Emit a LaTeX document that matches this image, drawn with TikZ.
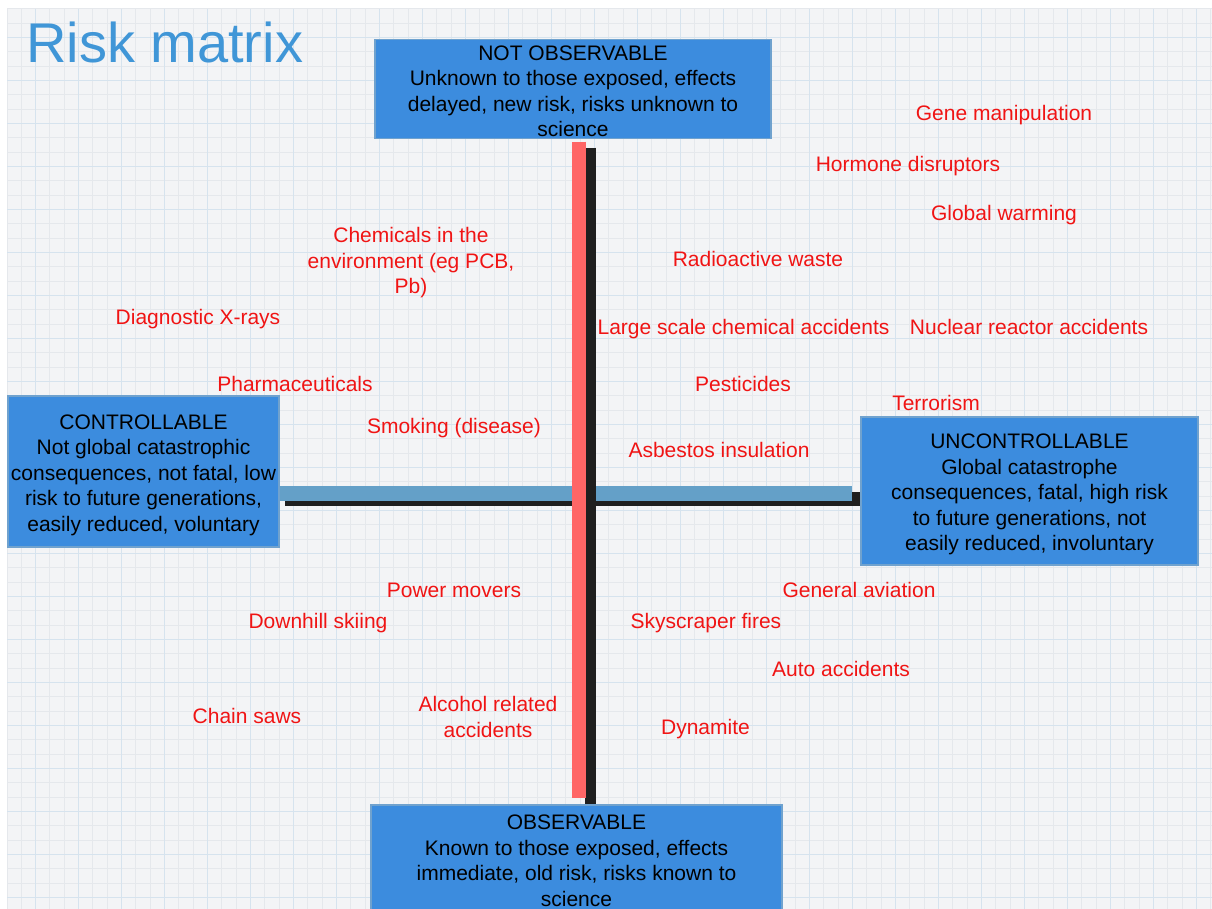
\documentclass[tikz,border=0pt]{standalone}
\usepackage{fontspec}
\setmainfont{Liberation Sans}
\definecolor{boxblue}{RGB}{60,140,222}
\definecolor{boxedge}{RGB}{112,162,206}
\definecolor{barblue}{RGB}{100,160,200}
\definecolor{barred}{RGB}{255,102,102}
\definecolor{titleblue}{RGB}{64,150,215}
\definecolor{riskred}{RGB}{240,20,20}
\definecolor{paper}{RGB}{243,244,246}
\definecolor{gridminor}{RGB}{229,232,236}
\definecolor{gridmajor}{RGB}{214,227,238}
\newcommand{\riskFont}[0]{\fontsize{21}{25.5}\selectfont}
\newcommand{\gridStep}[0]{14.33}
\newcommand{\boxLift}[1]{\rule{0pt}{#1}}

\begin{document}
\begin{tikzpicture}[x=1pt,y=-1pt]
  \tikzset{axis box/.style={draw=boxedge,line width=1.5pt,fill=boxblue,align=center,font=\riskFont,inner sep=0pt},
    risk/.style={text=riskred,align=center,font=\riskFont,inner sep=0pt},
    bar/.style={line cap=butt}}
  \useasboundingbox (0,0) rectangle (1212,909);
  \begin{scope}
    \clip (0,0) rectangle (1212,909);
    \fill[white] (0,0) rectangle (1212,909);
    \fill[paper] (7,9) rectangle (1212,909);
    \foreach \i in {0,...,84}
      \draw[gridminor,line width=1pt] (7+\gridStep*\i,9) -- (7+\gridStep*\i,909);
    \foreach \i in {0,...,63}
      \draw[gridminor,line width=1pt] (7,9+\gridStep*\i) -- (1212,9+\gridStep*\i);
    \foreach \i in {2,5,...,84}
      \draw[gridmajor,line width=1pt] (7+\gridStep*\i,9) -- (7+\gridStep*\i,909);
    \foreach \i in {2,5,...,63}
      \draw[gridmajor,line width=1pt] (7,9+\gridStep*\i) -- (1212,9+\gridStep*\i);

    \node[text=titleblue,font=\fontsize{56}{60}\selectfont,anchor=base west,inner sep=0pt] (title) at (26,63) {Risk matrix};

    \node[axis box,minimum width=396,minimum height=99] (notobs) at (573,89) {\boxLift{19.5pt}NOT OBSERVABLE\\Unknown to those exposed, effects\\delayed, new risk, risks unknown to\\science};
    \node[axis box,minimum width=411,minimum height=107] (obs) at (576.5,858.5) {\boxLift{19.5pt}OBSERVABLE\\Known to those exposed, effects\\immediate, old risk, risks known to\\science};
    \node[axis box,minimum width=271,minimum height=151] (ctrl) at (143.5,471.5) {\boxLift{21.5pt}CONTROLLABLE\\Not global catastrophic\\consequences, not fatal, low\\risk to future generations,\\easily reduced, voluntary};
    \node[axis box,minimum width=337,minimum height=148] (unctrl) at (1029.5,491) {\boxLift{21.5pt}UNCONTROLLABLE\\Global catastrophe\\consequences, fatal, high risk\\to future generations, not\\easily reduced, involuntary};

    \coordinate (hb) at (0,493.5);
    \coordinate (hs) at (0,499);
    \coordinate (vb) at (579,0);
    \coordinate (vs) at (590.5,0);
    \draw[bar,black!88,line width=14pt] ([xshift=5pt]ctrl.east |- hs) -- (unctrl.west |- hs);
    \draw[bar,barblue,line width=15pt] (ctrl.east |- hb) -- ([xshift=-8pt]unctrl.west |- hb);
    \draw[bar,black!88,line width=11pt] ([yshift=-8.5pt]notobs.south -| vs) -- (obs.north -| vs);
    \draw[bar,barred,line width=14pt] ([yshift=-2.5pt]notobs.south -| vb) -- ([yshift=6pt]obs.north -| vb);

    \node[risk,anchor=base] (gene) at (1004,121) {Gene manipulation};
    \node[risk,anchor=base] (hormone) at (908,172) {Hormone disruptors};
    \node[risk,anchor=base] (warming) at (1004,221) {Global warming};
    \node[risk] (chemicals) at (411,263) {Chemicals in the\\environment (eg PCB,\\Pb)};
    \node[risk,anchor=base] (waste) at (758,267) {Radioactive waste};
    \node[risk,anchor=base] (xrays) at (198,324) {Diagnostic X-rays};
    \node[risk,anchor=base] (chemacc) at (743.5,334) {Large scale chemical accidents};
    \node[risk,anchor=base] (nuclear) at (1029,334) {Nuclear reactor accidents};
    \node[risk,anchor=base] (pharma) at (295,391) {Pharmaceuticals};
    \node[risk,anchor=base] (pesticides) at (743,391) {Pesticides};
    \node[risk,anchor=base] (terror) at (936,410) {Terrorism};
    \node[risk,anchor=base] (smoking) at (454,433) {Smoking (disease)};
    \node[risk,anchor=base] (asbestos) at (719,457) {Asbestos insulation};
    \node[risk,anchor=base] (mowers) at (454,597) {Power movers};
    \node[risk,anchor=base] (aviation) at (859,597) {General aviation};
    \node[risk,anchor=base] (skiing) at (318,628) {Downhill skiing};
    \node[risk,anchor=base] (skyscraper) at (706,628) {Skyscraper fires};
    \node[risk,anchor=base] (auto) at (841,676) {Auto accidents};
    \node[risk,anchor=base] (saws) at (247,723) {Chain saws};
    \node[risk] (alcohol) at (488,717) {Alcohol related\\accidents};
    \node[risk,anchor=base] (dynamite) at (705.5,734) {Dynamite};
  \end{scope}
\end{tikzpicture}
\end{document}
